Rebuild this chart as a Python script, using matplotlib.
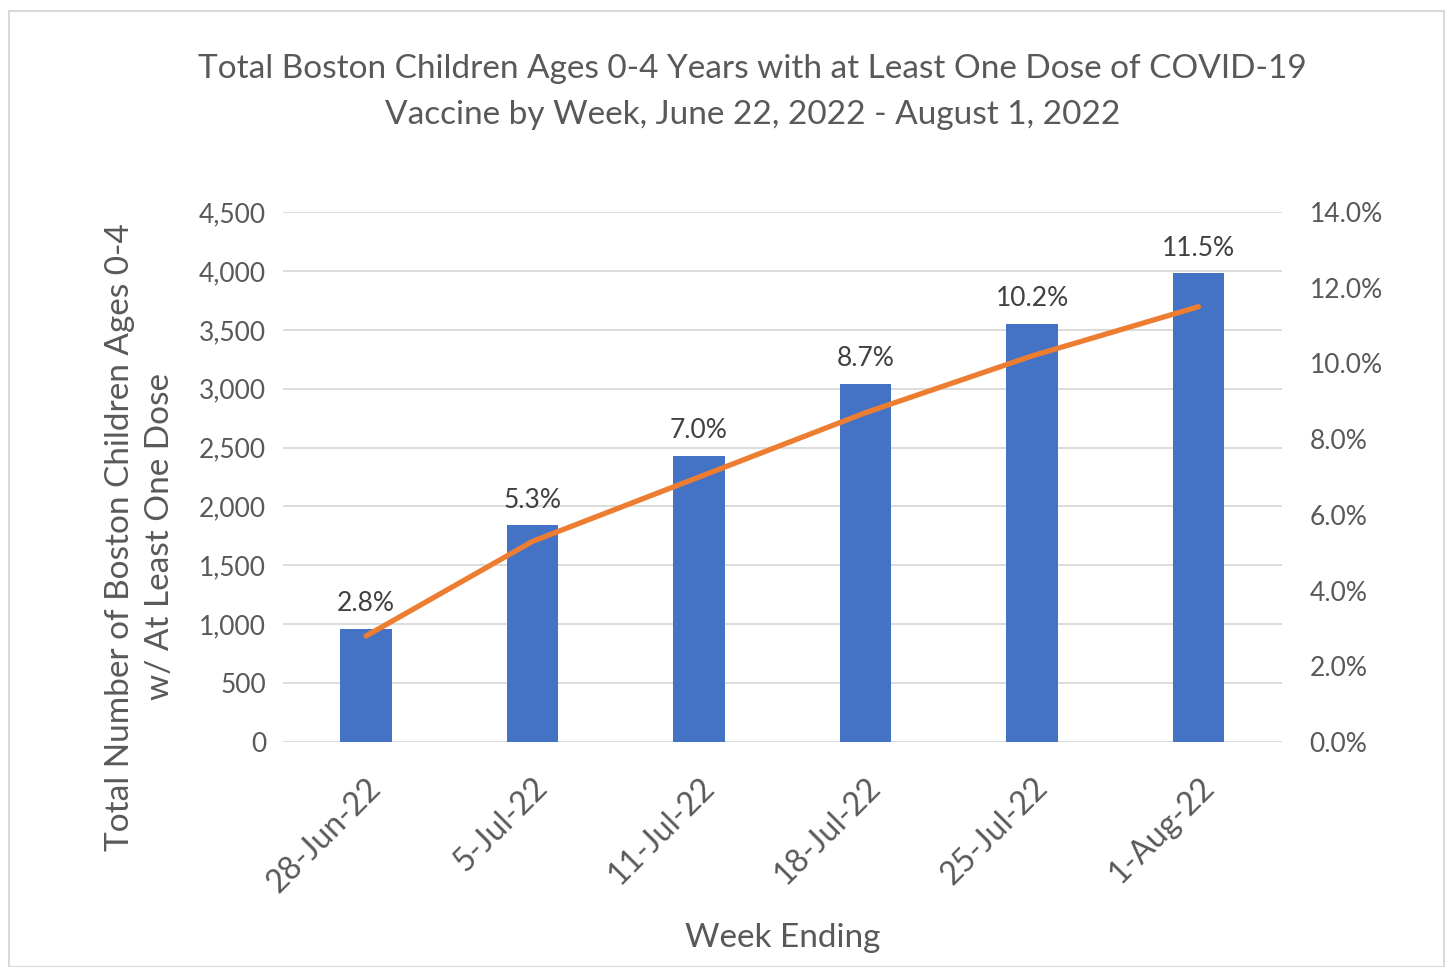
import matplotlib.pyplot as plt
from matplotlib.patches import Rectangle
from matplotlib.ticker import FuncFormatter

# Datos
semanas = ['28-Jun-22', '5-Jul-22', '11-Jul-22', '18-Jul-22', '25-Jul-22', '1-Aug-22']
ninos = [960, 1842, 2430, 3040, 3550, 3980]
porcentaje = [2.8, 5.3, 7.0, 8.7, 10.2, 11.5]

plt.rcParams['font.family'] = ['Lato', 'DejaVu Sans']
texto = '#595959'

fig = plt.figure(figsize=(14.5, 9.67), dpi=100)
fig.patches.append(Rectangle((0.006, 0.0), 0.99, 0.989, transform=fig.transFigure,
                             fill=False, edgecolor='#d9d9d9', linewidth=1.5))

ax = fig.add_axes([0.195, 0.2327, 0.689, 0.548])
x = range(len(semanas))
ax.bar(x, ninos, width=0.31, color='#4472C4', zorder=3)
ax.set_ylim(0, 4500)
ax.set_xlim(-0.5, len(semanas) - 0.5)
ax.set_yticks(range(0, 4501, 500))
ax.yaxis.set_major_formatter(FuncFormatter(lambda v, p: f'{int(v):,}'))
ax.grid(axis='y', color='#d9d9d9', linewidth=1.3, zorder=0)
for s in ax.spines.values():
    s.set_visible(False)
ax.tick_params(axis='y', length=0, labelsize=19, labelcolor=texto, pad=12)
ax.tick_params(axis='x', length=0, labelsize=23, labelcolor=texto, pad=22)
ax.set_xticks(list(x))
ax.set_xticklabels(semanas, rotation=45, ha='right', va='top', rotation_mode='anchor')
ax.set_xlabel('Week Ending', fontsize=24, color=texto, labelpad=18)
ax.set_ylabel('Total Number of Boston Children Ages 0-4\nw/ At Least One Dose',
              fontsize=24, color=texto, linespacing=1.4)
ax.yaxis.set_label_coords(-0.108, 0.387)

for i, (n, p) in enumerate(zip(ninos, porcentaje)):
    ax.annotate(f'{p:.1f}%', (i, n), xytext=(0, 9), textcoords='offset points',
                ha='center', va='bottom', fontsize=19, color='#404040', zorder=5)

ax2 = ax.twinx()
ax2.plot(list(x), porcentaje, color='#ED7D31', linewidth=3.8, solid_capstyle='round', zorder=4)
ax2.set_ylim(0, 14)
ax2.set_yticks(range(0, 15, 2))
ax2.yaxis.set_major_formatter(FuncFormatter(lambda v, p: f'{v:.1f}%'))
for s in ax2.spines.values():
    s.set_visible(False)
ax2.tick_params(axis='y', length=0, labelsize=19, labelcolor=texto, pad=20)

fig.suptitle('Total Boston Children Ages 0-4 Years with at Least One Dose of COVID-19\n'
             'Vaccine by Week, June 22, 2022 - August 1, 2022',
             x=0.519, y=0.944, fontsize=24, color=texto, linespacing=1.65)

fig.savefig('out.png', dpi=100)
